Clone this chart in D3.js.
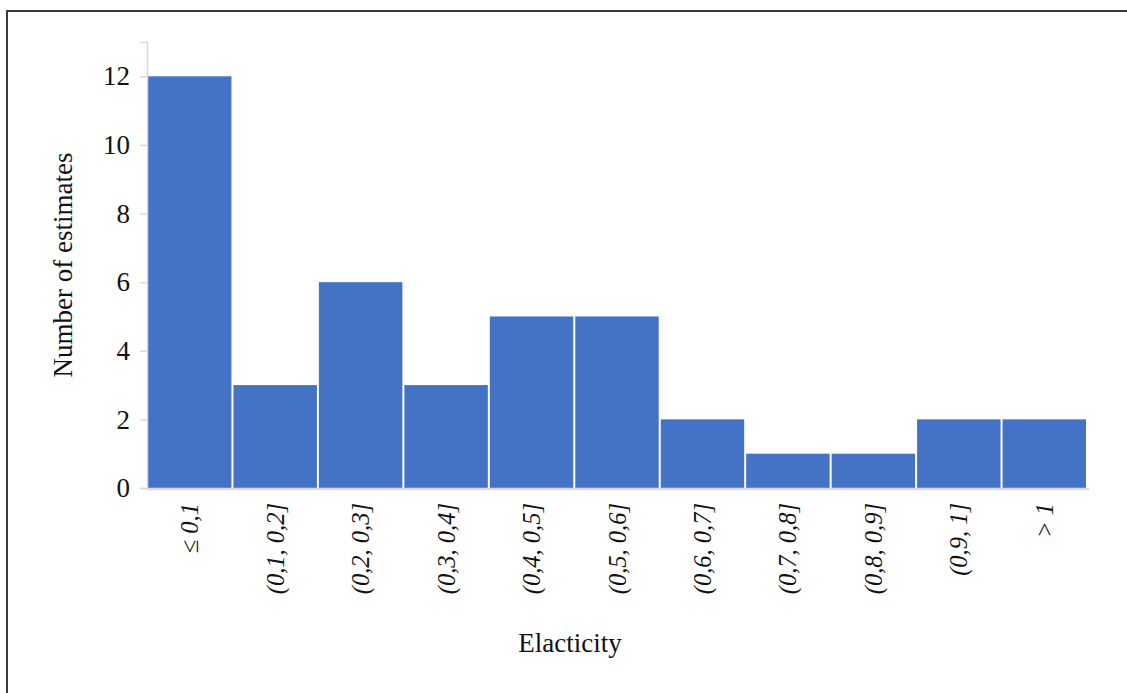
<!DOCTYPE html>
<html>
<head>
<meta charset="utf-8">
<script src="https://cdn.jsdelivr.net/npm/d3@7"></script>
<style>
  body { margin: 0; background: #fff; }
  svg text { font-family: "Liberation Serif", "Times New Roman", serif; fill: #111; }
</style>
</head>
<body>
<svg id="chart"></svg>
<script>
// Data
const categories = ["≤ 0,1", "(0,1, 0,2]", "(0,2, 0,3]", "(0,3, 0,4]", "(0,4, 0,5]",
    "(0,5, 0,6]", "(0,6, 0,7]", "(0,7, 0,8]", "(0,8, 0,9]", "(0,9, 1]", "> 1"];
const counts = [12, 3, 6, 3, 5, 5, 2, 1, 1, 2, 2];
const yTicks = [0, 2, 4, 6, 8, 10, 12];

const width = 1127;
const height = 693;
const margin = { top: 42, right: 40, bottom: 205, left: 147 };

const svg = d3.select("#chart")
    .attr("width", width)
    .attr("height", height);

// outer frame (runs off right / bottom of the window)
svg.append("rect")
    .attr("x", 7).attr("y", 11)
    .attr("width", 1300).attr("height", 900)
    .attr("fill", "none")
    .attr("stroke", "#3a3a3a")
    .attr("stroke-width", 2);

const x = d3.scaleBand()
    .domain(categories)
    .range([margin.left, width - margin.right]);

const y = d3.scaleLinear()
    .domain([0, 13])
    .range([height - margin.bottom, margin.top]);

// bars
svg.append("g")
    .selectAll("rect")
    .data(counts)
    .join("rect")
    .attr("x", (d, i) => x(categories[i]) + 1)
    .attr("width", x.bandwidth() - 2)
    .attr("y", d => y(d))
    .attr("height", d => y(0) - y(d))
    .attr("fill", "#4472C4");

// y axis
const yAxis = svg.append("g")
    .attr("transform", `translate(${margin.left},0)`)
    .call(d3.axisLeft(y).tickValues(yTicks).tickSize(7).tickPadding(10));
yAxis.select(".domain").attr("stroke", "#d9d9d9").attr("stroke-width", 1.5);
yAxis.selectAll(".tick line").attr("stroke", "#d9d9d9").attr("stroke-width", 1.5);
yAxis.selectAll(".tick text")
    .attr("font-size", 27)
    .attr("fill", "#111")
    .style("font-family", "Liberation Serif, serif");

// x axis
const xAxis = svg.append("g")
    .attr("transform", `translate(0,${y(0)})`)
    .call(d3.axisBottom(x).tickSize(0).tickSizeOuter(0));
xAxis.select(".domain")
    .attr("stroke", "#d9d9d9")
    .attr("stroke-width", 2.5)
    .attr("d", `M${margin.left},1V1H${width - margin.right + 2}`);
xAxis.selectAll(".tick text")
    .attr("transform", "rotate(-90)")
    .attr("text-anchor", "end")
    .attr("x", -15)
    .attr("y", 0)
    .attr("dy", "0.35em")
    .attr("font-size", 24.5)
    .attr("font-style", "italic")
    .attr("fill", "#111")
    .style("font-family", "Liberation Serif, serif");

// axis titles
svg.append("text")
    .attr("transform", `translate(72,${(y(0) + margin.top) / 2}) rotate(-90)`)
    .attr("text-anchor", "middle")
    .attr("font-size", 27)
    .text("Number of estimates");

svg.append("text")
    .attr("x", 570)
    .attr("y", 652)
    .attr("text-anchor", "middle")
    .attr("font-size", 27)
    .text("Elacticity");
</script>
</body>
</html>
